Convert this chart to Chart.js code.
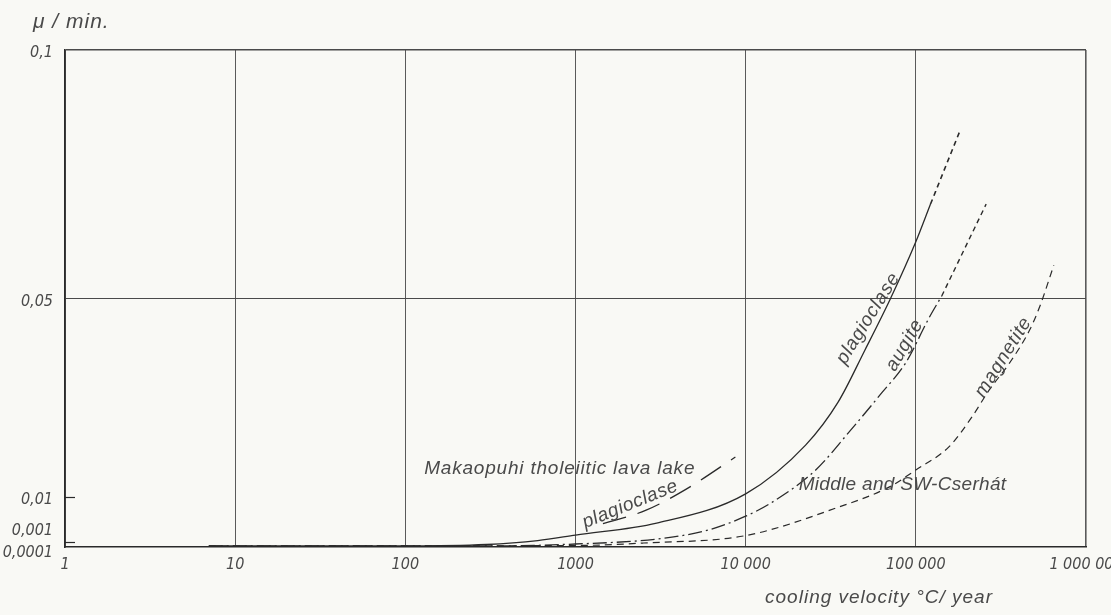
<!DOCTYPE html>
<html>
<head>
<meta charset="utf-8">
<script src="https://cdn.jsdelivr.net/npm/chart.js@4.4.1/dist/chart.umd.min.js"></script>
<style>
  html, body { margin: 0; padding: 0; background: #f9f9f5; }
  canvas { display: block; }
</style>
</head>
<body>
<canvas id="chart" width="1111" height="615"></canvas>
<script>
// axis ticks
const xTicks = [1, 10, 100, 1000, 10000, 100000, 1000000];
const xTickLabels = ['1', '10', '100', '1000', '10 000', '100 000', '1 000 000'];
const yTicks = [0.0001, 0.001, 0.01, 0.05, 0.1];
const yTickLabels = ['0,0001', '0,001', '0,01', '0,05', '0,1'];

// Middle and SW-Cserhát: plagioclase (solid, then dashed)
const plagX = [7, 100, 300, 600, 1000, 3000, 10000, 22500, 35000, 50000, 71000, 100000, 122000];
const plagY = [0.0002, 0.0002, 0.0005, 0.0013, 0.0024, 0.0048, 0.0107, 0.0205, 0.0292, 0.0395, 0.050, 0.0614, 0.069];
const plagExtX = [122000, 180000];
const plagExtY = [0.069, 0.0834];

// augite (dash-dot, then dashed)
const augX = [7, 300, 1000, 3000, 6000, 10000, 14000, 25800, 40000, 63000, 87000, 120000, 142000];
const augY = [0.0002, 0.0002, 0.0006, 0.0016, 0.0034, 0.0062, 0.0088, 0.0155, 0.0229, 0.031, 0.037, 0.0462, 0.0505];
const augExtX = [142000, 259000];
const augExtY = [0.0505, 0.069];

// magnetite (short dashes)
const magX = [7, 1000, 2500, 10000, 35000, 70000, 100000, 157000, 214000, 270000, 355000, 467000, 535000, 647000];
const magY = [0.0002, 0.0003, 0.0008, 0.0023, 0.0080, 0.0121, 0.0155, 0.0202, 0.0262, 0.0316, 0.037, 0.0437, 0.0484, 0.0567];

// Makaopuhi tholeiitic lava lake: plagioclase (long dashes)
const makX = [1450, 2600, 4500, 8700];
const makY = [0.0047, 0.0074, 0.0117, 0.0181];

const FONT = "'Liberation Sans', 'DejaVu Sans', sans-serif";
const NARROW = "'DejaVu Sans Condensed', 'Liberation Sans Narrow', 'Liberation Sans', sans-serif";
const INK = '#2a2a2a';
const TEXT = '#4a4a4a';

function pts(xs, ys) {
    return xs.map((x, i) => ({ x: x, y: ys[i] }));
}

function line(data, dash, width) {
    return {
        data: data,
        showLine: true,
        pointRadius: 0,
        borderColor: INK,
        borderWidth: width || 1.3,
        borderDash: dash,
        cubicInterpolationMode: 'monotone',
        fill: false
    };
}

// labels written on the drawing, anchored in data coordinates
const notes = [
    { text: 'Makaopuhi tholeiitic lava lake', x: 129, y: 0.0147, rot: 0, align: 'left', gap: '0.8px' },
    { text: 'plagioclase', x: 2100, y: 0.0086, rot: -22, align: 'center', gap: '0.6px' },
    { text: 'Middle and SW-Cserhát', x: 20500, y: 0.0115, rot: 0, align: 'left', gap: '0.3px' },
    { text: 'plagioclase', x: 52500, y: 0.046, rot: -58, align: 'center', gap: '0.8px' },
    { text: 'augite', x: 86000, y: 0.0406, rot: -60, align: 'center', gap: '0.8px' },
    { text: 'magnetite', x: 327000, y: 0.0382, rot: -58, align: 'center', gap: '0.8px' }
];

const paperPlugin = {
    id: 'paper',
    beforeDraw(chart) {
        const ctx = chart.ctx;
        ctx.save();
        ctx.fillStyle = '#f9f9f5';
        ctx.fillRect(0, 0, chart.width, chart.height);
        ctx.restore();
    }
};

const drawingPlugin = {
    id: 'drawing',
    afterDraw(chart) {
        const ctx = chart.ctx;
        const xs = chart.scales.x;
        const ys = chart.scales.y;
        const area = chart.chartArea;
        ctx.save();

        // inward tick marks on the y axis
        ctx.strokeStyle = INK;
        ctx.lineWidth = 1.2;
        [0.01, 0.001].forEach(v => {
            const py = Math.round(ys.getPixelForValue(v)) + 0.5;
            ctx.beginPath();
            ctx.moveTo(area.left, py);
            ctx.lineTo(area.left + 10, py);
            ctx.stroke();
        });

        // y tick labels (the small ones are spread apart as on the original)
        const nudge = { 0.0001: 6, 0.001: -11 };
        ctx.fillStyle = TEXT;
        ctx.font = 'italic 16px ' + NARROW;
        ctx.textAlign = 'right';
        ctx.textBaseline = 'middle';
        yTicks.forEach((v, i) => {
            const py = ys.getPixelForValue(v) + (nudge[v] !== undefined ? nudge[v] : 3);
            ctx.fillText(yTickLabels[i], area.left - 12, py);
        });

        // axis titles
        ctx.textAlign = 'left';
        ctx.textBaseline = 'alphabetic';
        ctx.letterSpacing = '1px';
        ctx.font = 'italic 21px ' + FONT;
        ctx.fillText('\u03bc / min.', area.left - 32, area.top - 22);
        ctx.font = 'italic 19px ' + FONT;
        ctx.fillText('cooling velocity \u00b0C/ year', xs.getPixelForValue(13000), area.bottom + 56);

        // curve names
        ctx.font = 'italic 19px ' + FONT;
        notes.forEach(n => {
            ctx.save();
            ctx.letterSpacing = n.gap;
            ctx.translate(xs.getPixelForValue(n.x), ys.getPixelForValue(n.y));
            ctx.rotate(n.rot * Math.PI / 180);
            ctx.textAlign = n.align;
            ctx.textBaseline = n.align === 'left' ? 'alphabetic' : 'middle';
            ctx.fillText(n.text, 0, 0);
            ctx.restore();
        });

        ctx.restore();
    }
};

const chart = new Chart(document.getElementById('chart'), {
    type: 'scatter',
    data: {
        datasets: [
            line(pts(plagX, plagY), [], 1.3),
            line(pts(plagExtX, plagExtY), [5, 4], 1.6),
            line(pts(augX, augY), [14, 4, 2, 4], 1.3),
            line(pts(augExtX, augExtY), [5, 4], 1.4),
            line(pts(magX, magY), [7, 5], 1.2),
            line(pts(makX, makY), [24, 12], 1.3)
        ]
    },
    plugins: [paperPlugin, drawingPlugin],
    options: {
        responsive: false,
        animation: false,
        devicePixelRatio: 1,
        layout: { padding: { top: 50, right: 25, left: 0, bottom: 0 } },
        plugins: {
            legend: { display: false },
            tooltip: { enabled: false }
        },
        scales: {
            x: {
                type: 'logarithmic',
                min: 1,
                max: 1000000,
                afterBuildTicks: function (scale) {
                    scale.ticks = xTicks.map(v => ({ value: v }));
                },
                afterFit: function (scale) {
                    scale.height = 68;
                    scale.paddingLeft = 0;
                    scale.paddingRight = 0;
                },
                ticks: {
                    autoSkip: false,
                    maxRotation: 0,
                    padding: 8,
                    color: TEXT,
                    font: { family: NARROW, size: 16, style: 'italic' },
                    callback: function (value) {
                        const i = xTicks.indexOf(value);
                        return i >= 0 ? xTickLabels[i] : '';
                    }
                },
                grid: {
                    drawTicks: false,
                    color: '#5a5a5a',
                    lineWidth: ctx => (ctx.index === xTicks.length - 1 ? 1.6 : 1)
                },
                border: { display: true, color: INK, width: 1.6 }
            },
            y: {
                type: 'linear',
                min: 0,
                max: 0.1,
                afterBuildTicks: function (scale) {
                    scale.ticks = yTicks.map(v => ({ value: v }));
                },
                afterFit: function (scale) {
                    scale.width = 65;
                },
                ticks: { display: false },
                grid: {
                    drawTicks: false,
                    color: ctx => (ctx.tick && ctx.tick.value >= 0.05 ? '#4a4a4a' : 'rgba(0,0,0,0)'),
                    lineWidth: ctx => (ctx.tick && ctx.tick.value === 0.1 ? 1.6 : 1)
                },
                border: { display: true, color: INK, width: 1.6 }
            }
        }
    }
});
</script>
</body>
</html>
